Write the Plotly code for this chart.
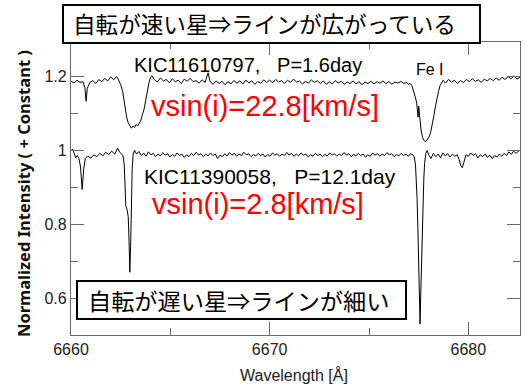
import plotly.graph_objects as go

# ---------------- data ----------------
# Fast rotator KIC11610797 (offset spectrum, continuum ~1.19)
wl_fast = [
    6660.00, 6660.15, 6660.30, 6660.45, 6660.60, 6660.70, 6660.76, 6660.82, 6660.95, 6661.10,
    6661.25, 6661.40, 6661.55, 6661.70, 6661.85, 6662.00, 6662.15, 6662.30,
    6662.40, 6662.50, 6662.60, 6662.70, 6662.80, 6662.88, 6662.96, 6663.04, 6663.12, 6663.20,
    6663.28, 6663.36, 6663.44, 6663.52, 6663.60, 6663.68, 6663.76, 6663.84, 6663.92, 6664.00,
    6664.08,
    6664.20, 6664.35, 6664.50, 6664.65, 6664.80, 6664.95, 6665.10, 6665.25, 6665.40, 6665.55,
    6665.70, 6665.85, 6666.00, 6666.15, 6666.30, 6666.45, 6666.60, 6666.75, 6666.90, 6667.00,
    6667.15, 6667.30, 6667.45, 6667.60, 6667.75, 6667.90, 6668.05, 6668.20, 6668.35, 6668.50,
    6668.65, 6668.80, 6668.95, 6669.10, 6669.25, 6669.40, 6669.55, 6669.70, 6669.85, 6670.00,
    6670.15, 6670.30, 6670.45, 6670.60, 6670.75, 6670.90, 6671.05, 6671.20, 6671.35, 6671.50,
    6671.65, 6671.80, 6671.95, 6672.10, 6672.25, 6672.40, 6672.55, 6672.70, 6672.85, 6673.00,
    6673.15, 6673.30, 6673.45, 6673.60, 6673.75, 6673.90, 6674.05, 6674.20, 6674.35, 6674.50,
    6674.65, 6674.80, 6674.95, 6675.10, 6675.25, 6675.40, 6675.55, 6675.70, 6675.85, 6676.00,
    6676.15, 6676.30, 6676.45, 6676.60, 6676.75, 6676.90, 6677.00,
    6677.05, 6677.15, 6677.25, 6677.33, 6677.40, 6677.44, 6677.47, 6677.50, 6677.55, 6677.62,
    6677.70, 6677.78, 6677.86, 6677.94, 6678.02, 6678.10, 6678.18, 6678.26, 6678.34, 6678.42,
    6678.50, 6678.58, 6678.66, 6678.74,
    6678.85, 6679.00, 6679.15, 6679.30, 6679.45, 6679.60, 6679.75, 6679.90, 6680.05, 6680.20,
    6680.35, 6680.50, 6680.65, 6680.80, 6680.95, 6681.10, 6681.25, 6681.40, 6681.55, 6681.70,
    6681.85, 6682.00, 6682.15, 6682.30, 6682.45, 6682.60,
]
flux_fast = [
    1.187, 1.183, 1.190, 1.184, 1.186, 1.170, 1.133, 1.168, 1.184, 1.189,
    1.181, 1.192, 1.186, 1.195, 1.188, 1.199, 1.191, 1.200,
    1.190, 1.178, 1.160, 1.118, 1.090, 1.075, 1.068, 1.060, 1.066, 1.062,
    1.070, 1.066, 1.074, 1.082, 1.098, 1.112, 1.135, 1.160, 1.182, 1.198,
    1.202,
    1.191, 1.185, 1.196, 1.188, 1.192, 1.183, 1.194, 1.186, 1.190, 1.181,
    1.193, 1.187, 1.195, 1.186, 1.189, 1.182, 1.191, 1.184, 1.210, 1.186,
    1.179, 1.188, 1.181, 1.187, 1.178, 1.186, 1.180, 1.189, 1.182, 1.188,
    1.180, 1.190, 1.183, 1.188, 1.179, 1.186, 1.182, 1.191, 1.184, 1.190,
    1.183, 1.192, 1.185, 1.189, 1.181, 1.190, 1.184, 1.193, 1.185, 1.188,
    1.180, 1.187, 1.182, 1.191, 1.184, 1.189, 1.181, 1.188, 1.179, 1.186,
    1.180, 1.189, 1.182, 1.187, 1.179, 1.185, 1.181, 1.188, 1.180, 1.186,
    1.178, 1.185, 1.181, 1.187, 1.180, 1.186, 1.182, 1.188, 1.181, 1.186,
    1.179, 1.185, 1.182, 1.187, 1.181, 1.184, 1.178,
    1.182, 1.176, 1.160, 1.145, 1.128, 1.100, 1.090, 1.120, 1.085, 1.055,
    1.034, 1.026, 1.024, 1.030, 1.036, 1.048, 1.068, 1.092, 1.118, 1.142,
    1.160, 1.176, 1.184, 1.190,
    1.182, 1.192, 1.185, 1.190, 1.181, 1.189, 1.184, 1.192, 1.186, 1.194,
    1.187, 1.191, 1.184, 1.193, 1.188, 1.195, 1.189, 1.196, 1.190, 1.198,
    1.192, 1.200, 1.194, 1.202, 1.193, 1.198,
]

# Slow rotator KIC11390058 (continuum ~0.99)
wl_slow = [
    6660.00, 6660.08, 6660.16, 6660.24, 6660.32, 6660.40, 6660.48, 6660.56, 6660.64, 6660.72,
    6660.85, 6661.00, 6661.15, 6661.30, 6661.45, 6661.60, 6661.75, 6661.90, 6662.05, 6662.20,
    6662.35, 6662.45, 6662.55,
    6662.62, 6662.68, 6662.72, 6662.76, 6662.82, 6662.88, 6662.92, 6662.96, 6663.00, 6663.04,
    6663.08, 6663.13, 6663.20,
    6663.30, 6663.42, 6663.54, 6663.66, 6663.78, 6663.90, 6664.02, 6664.14, 6664.26, 6664.38,
    6664.50, 6664.62, 6664.74, 6664.86, 6664.98, 6665.10, 6665.22, 6665.34, 6665.46, 6665.58,
    6665.70, 6665.82, 6665.94, 6666.06, 6666.18, 6666.30, 6666.42, 6666.54, 6666.66, 6666.78,
    6666.90, 6667.02, 6667.14, 6667.26, 6667.38, 6667.50, 6667.62, 6667.74, 6667.86, 6667.98,
    6668.10, 6668.22, 6668.34, 6668.46, 6668.58, 6668.70, 6668.82, 6668.94, 6669.06, 6669.18,
    6669.30, 6669.42, 6669.54, 6669.66, 6669.78, 6669.90, 6670.02, 6670.14, 6670.26, 6670.38,
    6670.50, 6670.62, 6670.74, 6670.86, 6670.98, 6671.10, 6671.22, 6671.34, 6671.46, 6671.58,
    6671.70, 6671.82, 6671.94, 6672.06, 6672.18, 6672.30, 6672.42, 6672.54, 6672.66, 6672.78,
    6672.90, 6673.02, 6673.14, 6673.26, 6673.38, 6673.50, 6673.62, 6673.74, 6673.86, 6673.98,
    6674.10, 6674.22, 6674.34, 6674.46, 6674.58, 6674.70, 6674.82, 6674.94, 6675.06, 6675.18,
    6675.30, 6675.42, 6675.54, 6675.66, 6675.78, 6675.90, 6676.02, 6676.14, 6676.26, 6676.38,
    6676.50, 6676.62, 6676.74, 6676.86, 6676.98, 6677.08,
    6677.20, 6677.28, 6677.34, 6677.38, 6677.42, 6677.46, 6677.50, 6677.54, 6677.57, 6677.60,
    6677.64, 6677.68, 6677.72, 6677.76, 6677.80, 6677.86, 6677.93,
    6678.00, 6678.12, 6678.24, 6678.36, 6678.48, 6678.60, 6678.72, 6678.84, 6678.96, 6679.08,
    6679.20, 6679.32, 6679.44, 6679.54, 6679.62, 6679.70, 6679.78, 6679.88, 6680.00, 6680.12,
    6680.24, 6680.36, 6680.48, 6680.60, 6680.72, 6680.84, 6680.96, 6681.08, 6681.20, 6681.32,
    6681.44, 6681.56, 6681.68, 6681.80, 6681.92, 6682.04, 6682.16, 6682.28, 6682.40, 6682.55,
]
flux_slow = [
    0.998, 1.004, 0.992, 0.980, 0.986, 0.978, 0.955, 0.894, 0.950, 0.978,
    0.985, 0.979, 0.988, 0.983, 0.992, 0.985, 0.995, 0.988, 0.998, 0.990,
    1.006, 0.995, 0.990,
    0.985, 0.960, 0.900, 0.850, 0.840, 0.820, 0.760, 0.670, 0.740, 0.860,
    0.950, 0.990, 1.000,
    0.990, 0.997, 0.986, 0.993, 0.984, 0.996, 0.988, 0.992, 0.983, 0.990,
    0.985, 0.994, 0.987, 0.991, 0.982, 0.989, 0.984, 0.993, 0.986, 0.990,
    0.981, 0.988, 0.983, 0.992, 0.986, 0.995, 0.987, 0.991, 0.983, 0.990,
    0.985, 0.993, 0.986, 0.990, 0.978, 0.987, 0.983, 0.991, 0.985, 0.994,
    0.987, 0.992, 0.984, 0.990, 0.986, 0.995, 0.988, 0.991, 0.983, 0.989,
    0.985, 0.992, 0.986, 0.990, 0.982, 0.989, 0.984, 0.993, 0.987, 0.991,
    0.984, 0.990, 0.986, 0.994, 0.988, 0.992, 0.984, 0.990, 0.985, 0.993,
    0.987, 0.990, 0.982, 0.988, 0.984, 0.992, 0.986, 0.990, 0.983, 0.989,
    0.985, 0.993, 0.987, 0.991, 0.984, 0.990, 0.986, 0.994, 0.988, 0.991,
    0.983, 0.989, 0.985, 0.992, 0.986, 0.990, 0.982, 0.988, 0.984, 0.993,
    0.987, 0.991, 0.984, 0.990, 0.986, 0.994, 0.988, 0.991, 0.983, 0.989,
    0.985, 0.992, 0.986, 0.990, 0.984, 0.991,
    0.988, 0.982, 0.960, 0.925, 0.870, 0.790, 0.700, 0.600, 0.530, 0.600,
    0.700, 0.790, 0.870, 0.925, 0.965, 0.992, 1.000,
    0.988, 0.978, 0.992, 0.983, 0.990, 0.980, 0.993, 0.985, 0.991, 0.982,
    0.990, 0.984, 0.988, 0.975, 0.958, 0.953, 0.972, 0.988, 0.984, 0.993,
    0.986, 0.991, 0.979, 0.988, 0.983, 0.990, 0.981, 0.987, 0.978, 0.986,
    0.982, 0.990, 0.984, 0.992, 0.986, 0.996, 0.989, 0.998, 0.992, 0.999,
]

x_range = [6660.0, 6682.6]
y_range = [0.5, 1.2935]
x_ticks = [6660, 6670, 6680]
y_ticks = [0.6, 0.8, 1.0, 1.2]
y_tick_text = ["0.6", "0.8", "1", "1.2"]

# ---------------- figure ----------------
W, H = 526, 389
ML, MR, MT, MB = 71, 6, 42, 54
PW, PH = W - ML - MR, H - MT - MB


def px(x):
    return (x - ML) / PW


def py(y):
    return (H - MB - y) / PH


fig = go.Figure()
for wl, fl in [(wl_fast, flux_fast), (wl_slow, flux_slow)]:
    fig.add_trace(go.Scatter(x=wl, y=fl, mode="lines",
                             line=dict(color="black", width=1), showlegend=False,
                             hoverinfo="skip"))

LAT = "Liberation Sans, Arial, sans-serif"
JP = "Noto Sans CJK JP, sans-serif"
axcol = "#6a6a6a"

fig.update_layout(
    width=W, height=H,
    margin=dict(l=ML, r=MR, t=MT, b=MB),
    paper_bgcolor="white", plot_bgcolor="white",
    xaxis=dict(range=x_range, tickvals=x_ticks, ticks="inside", ticklen=13,
               tickwidth=1.2, tickcolor=axcol, showline=True, linecolor=axcol,
               linewidth=1.3, mirror="ticks", showgrid=False, zeroline=False,
               tickfont=dict(family=LAT, size=16, color="#222"),
               minor=dict(dtick=5, tick0=6660, ticks="inside", ticklen=7,
                          tickcolor=axcol, tickwidth=1.2, showgrid=False)),
    yaxis=dict(range=y_range, tickvals=y_ticks, ticktext=y_tick_text,
               ticks="inside", ticklen=13, tickwidth=1.2, tickcolor=axcol,
               showline=True, linecolor=axcol, linewidth=1.3, mirror="ticks",
               showgrid=False, zeroline=False,
               tickfont=dict(family=LAT, size=16, color="#222"),
               minor=dict(dtick=0.1, tick0=0.5, ticks="inside", ticklen=7,
                          tickcolor=axcol, tickwidth=1.2, showgrid=False)),
)

# boxes behind the Japanese captions
fig.add_shape(type="rect", xref="paper", yref="paper",
              x0=px(63), x1=px(480), y0=py(43), y1=py(5),
              line=dict(color="black", width=2), fillcolor="white", layer="above")
fig.add_shape(type="rect", xref="paper", yref="paper",
              x0=px(77), x1=px(406), y0=py(319), y1=py(281),
              line=dict(color="black", width=2), fillcolor="white", layer="above")

ann = [
    dict(text="自転が速い星⇒ラインが広がっている", x=px(71), y=py(24), xanchor="left",
         font=dict(family=JP, size=22.6, color="black")),
    dict(text="自転が遅い星⇒ラインが細い", x=px(86), y=py(300), xanchor="left",
         font=dict(family=JP, size=23.2, color="black")),
    dict(text="KIC11610797,\u00a0\u00a0\u00a0P=1.6day", x=px(132), y=py(65), xanchor="left",
         font=dict(family=LAT, size=20, color="black")),
    dict(text="Fe\u00a0I", x=px(430), y=py(69), xanchor="center",
         font=dict(family=LAT, size=16, color="black")),
    dict(text="vsin(i)=22.8[km/s]", x=px(149), y=py(106), xanchor="left",
         font=dict(family=LAT, size=29, color="red")),
    dict(text="KIC11390058,\u00a0\u00a0\u00a0P=12.1day", x=px(142), y=py(176), xanchor="left",
         font=dict(family=LAT, size=21, color="black")),
    dict(text="vsin(i)=2.8[km/s]", x=px(150), y=py(204), xanchor="left",
         font=dict(family=LAT, size=29, color="red")),
    dict(text="Wavelength [Å]", x=px(294), y=py(375), xanchor="center",
         font=dict(family=LAT, size=16, color="#222")),
    dict(text="<b>Normalized Intensity ( + Constant )</b>", x=px(24), y=py(194),
         xanchor="center", textangle=-90,
         font=dict(family="Noto Sans, sans-serif", size=16.5, color="#111")),
]
for a in ann:
    a.setdefault("yanchor", "middle")
    fig.add_annotation(xref="paper", yref="paper", showarrow=False, **a)

fig.write_html("out.html")
